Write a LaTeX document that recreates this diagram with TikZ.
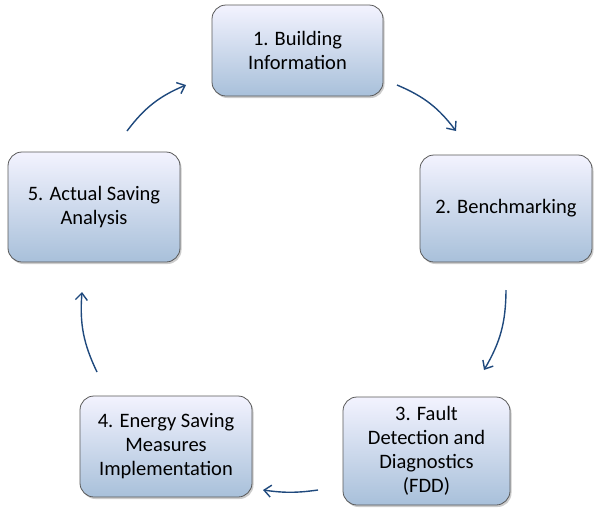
\documentclass[tikz,border=0pt]{standalone}
\usepackage{fontspec}
\setmainfont{Carlito}
\usetikzlibrary{arrows.meta,shadows}
\begin{document}
\begin{tikzpicture}[x=1pt,y=-1pt,
 box/.style={draw=gray!70!black,line width=0.8pt,rounded corners=14pt,top color=gray!10!blue!5!white,bottom color={rgb,255:red,168;green,192;blue,218},
  drop shadow={shadow xshift=1.5pt,shadow yshift=-2pt,opacity=0.4},
  align=center,font=\fontsize{20.5}{24}\selectfont,inner sep=2pt},
 arr/.style={draw={rgb,255:red,31;green,73;blue,125},line width=1.4pt,-{Straight Barb[length=7pt,width=12pt]}}]
\useasboundingbox (0,0) rectangle (600,512);
\node[box,minimum width=171pt,minimum height=91pt] (b1) at (297.5,50.5) {1. Building\\Information};
\node[box,minimum width=172pt,minimum height=107pt] (b2) at (506,208.5) {2. Benchmarking};
\node[box,minimum width=167pt,minimum height=108pt] (b3) at (426.5,451) {3. Fault\\Detection and\\Diagnostics\\(FDD)};
\node[box,minimum width=172pt,minimum height=101pt] (b4) at (166,446.5) {4. Energy Saving\\Measures\\Implementation};
\node[box,minimum width=172pt,minimum height=110pt] (b5) at (94,207) {5. Actual Saving\\Analysis};
\coordinate (a1s) at (397,85); \coordinate (a1e) at (456,131);
\coordinate (a2s) at (506,290); \coordinate (a2e) at (484,370);
\coordinate (a3s) at (318,490); \coordinate (a3e) at (263,490);
\coordinate (a4s) at (97,372); \coordinate (a4e) at (82,292);
\coordinate (a5s) at (127,131); \coordinate (a5e) at (186,85);
\draw[arr] (a1s) to[bend left=15] (a1e);
\draw[arr] (a2s) to[bend left=15] (a2e);
\draw[arr] (a3s) to[bend left=8] (a3e);
\draw[arr] (a4s) to[bend left=15] (a4e);
\draw[arr] (a5s) to[bend left=15] (a5e);
\end{tikzpicture}
\end{document}
